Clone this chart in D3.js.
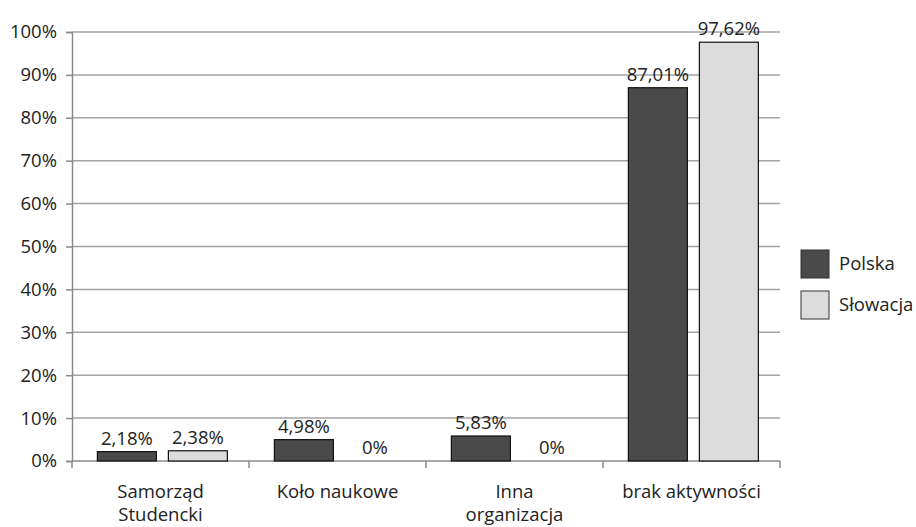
<!DOCTYPE html>
<html>
<head>
<meta charset="utf-8">
<script src="https://cdn.jsdelivr.net/npm/d3@7"></script>
<style>
  body { margin: 0; background: #fff; }
  text { font-family: "Open Sans", sans-serif; fill: #222; }
</style>
</head>
<body>
<script>
// data
const categories = [["Samorząd", "Studencki"], ["Koło naukowe"], ["Inna", "organizacja"], ["brak aktywności"]];
const series = ["Polska", "Słowacja"];
const polska = [2.18, 4.98, 5.83, 87.01];
const slowacja = [2.38, 0, 0, 97.62];
const yTicks = [0, 10, 20, 30, 40, 50, 60, 70, 80, 90, 100];
const colors = ["#4a4a4a", "#dcdcdd"];

const w = 916, h = 527;
const padLeft = 72, padRight = 780, padTop = 32, padBottom = 461;
const fs = "18.5px";

const svg = d3.select("body").append("svg")
    .attr("width", w)
    .attr("height", h);

const keys = categories.map(function (d) { return d.join(" "); });

const x0 = d3.scaleBand().domain(keys).range([padLeft, padRight]);
const x1 = d3.scaleBand().domain(series).range([0, x0.bandwidth()])
    .paddingInner(0.169).paddingOuter(0.331).align(0.54);
const y = d3.scaleLinear().domain([0, 100]).range([padBottom, padTop]);

// gridlines
svg.append("g")
    .selectAll("line")
    .data(yTicks.slice(1))
    .enter().append("line")
    .attr("x1", padLeft).attr("x2", padRight)
    .attr("y1", function (d) { return y(d); })
    .attr("y2", function (d) { return y(d); })
    .attr("stroke", "#a3a3a3")
    .attr("stroke-width", 1.5);

// y axis
const yAxis = svg.append("g")
    .attr("transform", "translate(" + padLeft + ",0)")
    .call(d3.axisLeft(y).tickValues(yTicks).tickSize(6).tickPadding(10)
        .tickFormat(function (d) { return d + "%"; }));
yAxis.select(".domain").attr("stroke", "#8a8a8a").attr("stroke-width", 1.5);
yAxis.selectAll(".tick line").attr("stroke", "#8a8a8a").attr("stroke-width", 1.5);
yAxis.selectAll(".tick text")
    .attr("fill", "#222")
    .attr("x", -15)
    .style("font-family", "Open Sans")
    .style("font-size", fs);

// x axis line with boundary ticks
svg.append("line")
    .attr("x1", padLeft).attr("x2", padRight)
    .attr("y1", padBottom).attr("y2", padBottom)
    .attr("stroke", "#8a8a8a").attr("stroke-width", 1.5);

const bounds = keys.map(function (k) { return x0(k); }).concat([padRight]);
svg.append("g").selectAll("line")
    .data(bounds)
    .enter().append("line")
    .attr("x1", function (d) { return d; })
    .attr("x2", function (d) { return d; })
    .attr("y1", padBottom).attr("y2", padBottom + 7)
    .attr("stroke", "#8a8a8a").attr("stroke-width", 1.5);

// bars
const rows = keys.map(function (k, i) {
    return { key: k, values: [polska[i], slowacja[i]] };
});

const groups = svg.selectAll("g.grp")
    .data(rows)
    .enter().append("g")
    .attr("class", "grp")
    .attr("transform", function (d) { return "translate(" + x0(d.key) + ",0)"; });

groups.selectAll("rect")
    .data(function (d) {
        return d.values
            .map(function (v, j) { return { s: series[j], v: v, j: j }; })
            .filter(function (e) { return e.v > 0; });
    })
    .enter().append("rect")
    .attr("x", function (d) { return x1(d.s); })
    .attr("y", function (d) { return y(d.v); })
    .attr("width", x1.bandwidth())
    .attr("height", function (d) { return padBottom - y(d.v); })
    .attr("fill", function (d) { return colors[d.j]; })
    .attr("stroke", "#111")
    .attr("stroke-width", 1.2);

groups.selectAll("text.val")
    .data(function (d) { return d.values.map(function (v, j) { return { s: series[j], v: v }; }); })
    .enter().append("text")
    .attr("class", "val")
    .attr("x", function (d) { return x1(d.s) + x1.bandwidth() / 2; })
    .attr("y", function (d) { return y(d.v) - 7; })
    .attr("text-anchor", "middle")
    .style("font-size", fs)
    .text(function (d) { return String(d.v).replace(".", ",") + "%"; });

// category labels
const catLabels = svg.selectAll("text.cat")
    .data(categories)
    .enter().append("text")
    .attr("class", "cat")
    .attr("text-anchor", "middle")
    .attr("x", function (d, i) { return x0(keys[i]) + x0.bandwidth() / 2; })
    .attr("y", 498)
    .style("font-size", fs);

catLabels.selectAll("tspan")
    .data(function (d) { return d; })
    .enter().append("tspan")
    .attr("x", function () { return this.parentNode.getAttribute("x"); })
    .attr("dy", function (d, i) { return i === 0 ? 0 : 23; })
    .text(function (d) { return d; });

// legend
const legend = svg.append("g").attr("transform", "translate(801,250)");
const li = legend.selectAll("g")
    .data(series)
    .enter().append("g")
    .attr("transform", function (d, i) { return "translate(0," + (i * 41) + ")"; });
li.append("rect")
    .attr("width", 28).attr("height", 28)
    .attr("fill", function (d, i) { return colors[i]; })
    .attr("stroke", "#333").attr("stroke-width", 1);
li.append("text")
    .attr("x", 38).attr("y", 14).attr("dy", "0.35em")
    .style("font-size", fs)
    .text(function (d) { return d; });
</script>
</body>
</html>
